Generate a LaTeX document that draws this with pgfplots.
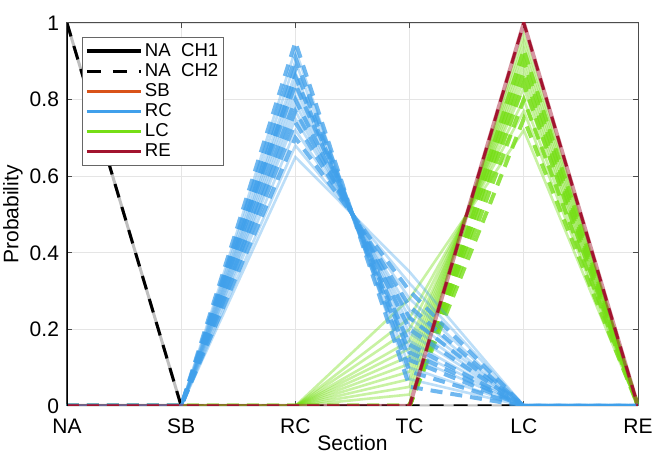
\documentclass[border=0pt]{standalone}
\usepackage{pgfplots}
\pgfplotsset{compat=1.18}
\usepackage{fontspec}
\setmainfont{Liberation Sans}
\definecolor{myorange}{RGB}{217,83,25}
\definecolor{myblue}{RGB}{64,160,235}
\definecolor{mygreen}{RGB}{118,222,22}
\definecolor{myred}{RGB}{162,20,47}
\begin{document}
\begin{tikzpicture}
\begin{axis}[
  name=ax,
  scale only axis,
  width=285.5pt, height=191.5pt,
  xmin=0, xmax=5, ymin=0, ymax=1,
  xtick={0,1,2,3,4,5},
  xticklabels={NA,SB,RC,TC,LC,RE},
  ytick={0,0.2,0.4,0.6,0.8,1},
  yticklabels={0,0.2,0.4,0.6,0.8,1},
  grid=major,
  grid style={black!10, line width=0.4pt},
  tick align=inside,
  major tick length=2.5pt,
  tick style={black!70, line width=0.5pt},
  axis line style={black!70, line width=0.5pt},
  ticklabel style={font=\fontsize{10.5}{12}\selectfont},
  xticklabel style={yshift=-3pt},
  yticklabel style={xshift=-0.5pt},
  /pgf/number format/assume math mode=true,
  xlabel={Section},
  ylabel={Probability},
  xlabel style={font=\fontsize{10.5}{12}\selectfont, at={(axis description cs:0.5,0)}, anchor=center, yshift=-18.5pt},
  ylabel style={font=\fontsize{10.5}{12}\selectfont, at={(axis description cs:-0.0946,0.5)}, anchor=center},
  legend style={at={(0.026,0.963)}, anchor=north west, draw=black!60, line width=0.5pt, fill=white,
    font=\fontsize{9.3}{10}\selectfont, inner sep=1.5pt, row sep=-0.3pt,
    nodes={inner sep=1.2pt}},
  legend cell align=left,
  legend image code/.code={\draw[#1] (0pt,0pt) -- (27pt,0pt);},
  bsolid/.style={myblue, opacity=0.35, line width=1.3pt},
  bdash/.style={myblue, opacity=0.75, line width=2pt, dash pattern=on 6pt off 4pt},
  gsolid/.style={mygreen, opacity=0.4, line width=1.3pt},
  gdash/.style={mygreen, opacity=0.8, line width=2pt, dash pattern=on 6pt off 4pt},
]
% legend entries
\addlegendimage{black, line width=1.6pt}
\addlegendentry{NA\ \ CH1}
\addlegendimage{black, line width=1.6pt, dash pattern=on 7pt off 6pt}
\addlegendentry{NA\ \ CH2}
\addlegendimage{myorange, line width=1.6pt}
\addlegendentry{SB}
\addlegendimage{myblue, line width=1.6pt}
\addlegendentry{RC}
\addlegendimage{mygreen, line width=1.6pt}
\addlegendentry{LC}
\addlegendimage{myred, line width=1.6pt}
\addlegendentry{RE}

% SB (all zero)
\addplot[forget plot, myorange, line width=1.3pt] coordinates {(0,0)(1,0)(2,0)(3,0)(4,0)(5,0)};
% NA
\addplot[forget plot, black!25, line width=1.5pt] coordinates {(0,1)(1,0)(2,0)(3,0)(4,0)(5,0)};
\addplot[forget plot, black, line width=1.5pt, dash pattern=on 7pt off 5pt] coordinates {(0,1)(1,0)(2,0)(3,0)(4,0)(5,0)};

% LC (green)
\addplot[forget plot, gsolid] coordinates {(0,0)(1,0)(2,0)(3,0.03)(4,0.97)(5,0)};
\addplot[forget plot, gsolid] coordinates {(0,0)(1,0)(2,0)(3,0.05)(4,0.95)(5,0)};
\addplot[forget plot, gsolid] coordinates {(0,0)(1,0)(2,0)(3,0.07)(4,0.93)(5,0)};
\addplot[forget plot, gsolid] coordinates {(0,0)(1,0)(2,0)(3,0.09)(4,0.91)(5,0)};
\addplot[forget plot, gsolid] coordinates {(0,0)(1,0)(2,0)(3,0.11)(4,0.89)(5,0)};
\addplot[forget plot, gsolid] coordinates {(0,0)(1,0)(2,0)(3,0.13)(4,0.87)(5,0)};
\addplot[forget plot, gsolid] coordinates {(0,0)(1,0)(2,0)(3,0.15)(4,0.85)(5,0)};
\addplot[forget plot, gsolid] coordinates {(0,0)(1,0)(2,0)(3,0.17)(4,0.83)(5,0)};
\addplot[forget plot, gsolid] coordinates {(0,0)(1,0)(2,0)(3,0.20)(4,0.80)(5,0)};
\addplot[forget plot, gsolid] coordinates {(0,0)(1,0)(2,0)(3,0.23)(4,0.77)(5,0)};
\addplot[forget plot, gsolid] coordinates {(0,0)(1,0)(2,0)(3,0.28)(4,0.72)(5,0)};
\addplot[forget plot, gdash] coordinates {(0,0)(1,0)(2,0)(3,0)(4,0.93)(5,0)};
\addplot[forget plot, gdash] coordinates {(0,0)(1,0)(2,0)(3,0)(4,0.90)(5,0)};
\addplot[forget plot, gdash] coordinates {(0,0)(1,0)(2,0)(3,0)(4,0.87)(5,0)};
\addplot[forget plot, gdash] coordinates {(0,0)(1,0)(2,0)(3,0)(4,0.84)(5,0)};
\addplot[forget plot, gdash] coordinates {(0,0)(1,0)(2,0)(3,0)(4,0.80)(5,0)};
\addplot[forget plot, gdash] coordinates {(0,0)(1,0)(2,0)(3,0)(4,0.75)(5,0)};

% RC (blue)
\addplot[forget plot, bsolid] coordinates {(0,0)(1,0)(2,0.93)(3,0.07)(4,0)(5,0)};
\addplot[forget plot, bsolid] coordinates {(0,0)(1,0)(2,0.90)(3,0.10)(4,0)(5,0)};
\addplot[forget plot, bsolid] coordinates {(0,0)(1,0)(2,0.87)(3,0.13)(4,0)(5,0)};
\addplot[forget plot, bsolid] coordinates {(0,0)(1,0)(2,0.85)(3,0.15)(4,0)(5,0)};
\addplot[forget plot, bsolid] coordinates {(0,0)(1,0)(2,0.83)(3,0.17)(4,0)(5,0)};
\addplot[forget plot, bsolid] coordinates {(0,0)(1,0)(2,0.81)(3,0.19)(4,0)(5,0)};
\addplot[forget plot, bsolid] coordinates {(0,0)(1,0)(2,0.79)(3,0.21)(4,0)(5,0)};
\addplot[forget plot, bsolid] coordinates {(0,0)(1,0)(2,0.77)(3,0.23)(4,0)(5,0)};
\addplot[forget plot, bsolid] coordinates {(0,0)(1,0)(2,0.75)(3,0.25)(4,0)(5,0)};
\addplot[forget plot, bsolid] coordinates {(0,0)(1,0)(2,0.72)(3,0.28)(4,0)(5,0)};
\addplot[forget plot, bsolid] coordinates {(0,0)(1,0)(2,0.68)(3,0.32)(4,0)(5,0)};
\addplot[forget plot, bsolid] coordinates {(0,0)(1,0)(2,0.65)(3,0.35)(4,0)(5,0)};
\addplot[forget plot, bdash] coordinates {(0,0)(1,0)(2,0.95)(3,0.05)(4,0)(5,0)};
\addplot[forget plot, bdash] coordinates {(0,0)(1,0)(2,0.91)(3,0.09)(4,0)(5,0)};
\addplot[forget plot, bdash] coordinates {(0,0)(1,0)(2,0.88)(3,0.12)(4,0)(5,0)};
\addplot[forget plot, bdash] coordinates {(0,0)(1,0)(2,0.86)(3,0.14)(4,0)(5,0)};
\addplot[forget plot, bdash] coordinates {(0,0)(1,0)(2,0.84)(3,0.16)(4,0)(5,0)};
\addplot[forget plot, bdash] coordinates {(0,0)(1,0)(2,0.80)(3,0.20)(4,0)(5,0)};
\addplot[forget plot, bdash] coordinates {(0,0)(1,0)(2,0.77)(3,0.23)(4,0)(5,0)};
\addplot[forget plot, bdash] coordinates {(0,0)(1,0)(2,0.74)(3,0.26)(4,0)(5,0)};
\addplot[forget plot, bdash] coordinates {(0,0)(1,0)(2,0.70)(3,0.30)(4,0)(5,0)};

% RE (red)
\addplot[forget plot, myred, opacity=0.45, line width=2pt] coordinates {(0,0)(1,0)(2,0)(3,0)(4,1)(5,0)};
\addplot[forget plot, myred, line width=1.5pt, dash pattern=on 6pt off 4pt] coordinates {(0,0)(1,0)(2,0)(3,0)(4,1)(5,0)};

% thick left axis line
\draw[black, line width=1.5pt] (rel axis cs:0,0) -- (rel axis cs:0,1);
\end{axis}
\pgfresetboundingbox
\path (ax.south west) ++(-33.5pt,-29pt) rectangle ([xshift=10.5pt,yshift=11.5pt]ax.north east);
\end{tikzpicture}
\end{document}
